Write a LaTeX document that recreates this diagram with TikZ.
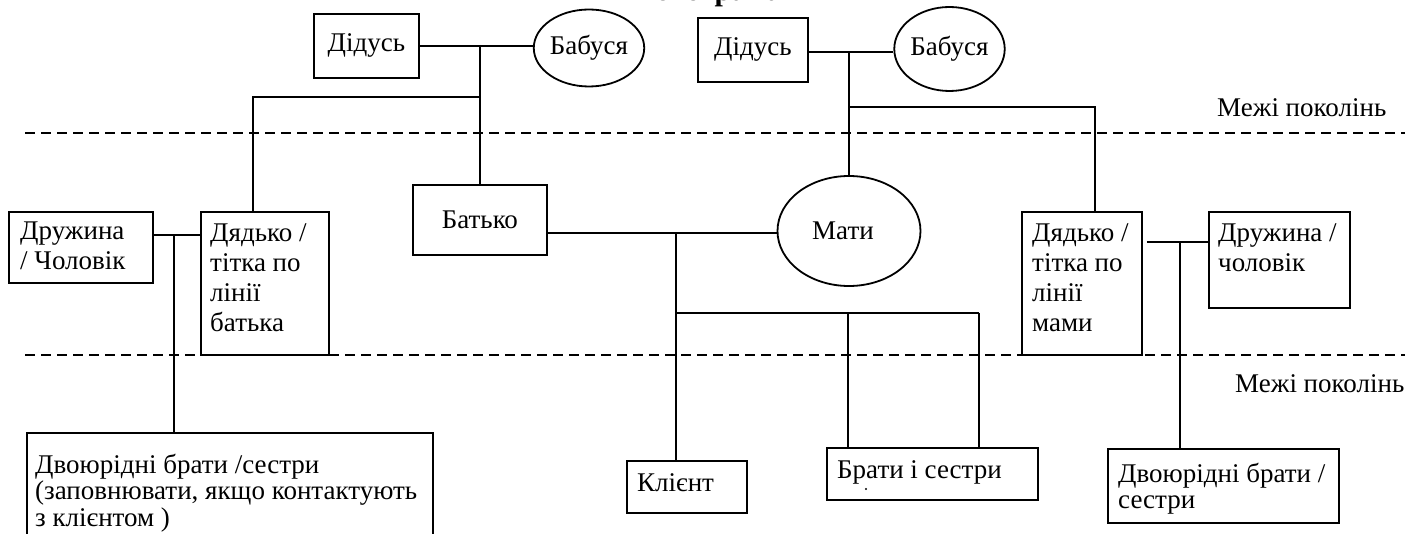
\documentclass[tikz,border=0pt]{standalone}
\usepackage{fontspec}
\setmainfont{Liberation Serif}
\usetikzlibrary{shapes.geometric,calc}
\tikzset{
  conn/.style={line width=1.8pt},
  box/.style={draw, line width=1.8pt, rectangle, inner sep=0pt, anchor=north west},
  oval/.style={draw, line width=1.8pt, ellipse, inner sep=0pt},
  txt/.style={anchor=base west, inner sep=0pt},
  tight/.style={font=\fontsize{27}{26.5}\selectfont},
  genline/.style={line width=1.6pt, dash pattern=on 10pt off 6pt},
}
\newcommand{\mlines}[1]{\begin{tabular}[t]{@{}l@{}}#1\end{tabular}}
\begin{document}
\begin{tikzpicture}[x=1pt,y=-1pt,font=\fontsize{27}{30}\selectfont]
\clip (0,0) rectangle (1411,534);
\useasboundingbox (0,0) rectangle (1411,534);

% title (cut off at the top, as in the reference)
\node[font=\bfseries\fontsize{30}{36}\selectfont, anchor=base, inner sep=0pt] (title) at (710,1) {Генограма};

% grandparents
\node[box, minimum width=105pt, minimum height=64pt] (dL) at (313,13) {};
\node[inner sep=0pt] (dLt) at (dL.center) {Дідусь};
\node[oval, minimum width=104pt, minimum height=77pt] (bL) at (589,48) {Бабуся};
\node[box, minimum width=110pt, minimum height=64pt] (dR) at (697,17) {};
\node[inner sep=0pt] (dRt) at (dR.center) {Дідусь};
\node[oval, minimum width=105pt, minimum height=84pt] (bR) at (949.5,49) {Бабуся};

% parents
\node[box, minimum width=134pt, minimum height=70pt] (father) at (412,184) {};
\node[inner sep=0pt] (fathert) at (father.center) {Батько};
\node[oval, minimum width=143pt, minimum height=110pt] (mother) at (849,231) {};
\node[inner sep=0pt] (mothert) at (843,231) {Мати};

% aunts / uncles and spouses
\node[box, minimum width=144pt, minimum height=71pt] (wifeL) at (8,211) {};
\node[txt] (wifeLt) at (20,240) {\mlines{Дружина\\/ Чоловік}};
\node[box, minimum width=128pt, minimum height=143pt] (uncleL) at (200,211) {};
\node[txt] (uncleLt) at (210,242) {\mlines{Дядько /\\тітка по\\лінії\\батька}};
\node[box, minimum width=120pt, minimum height=143pt] (uncleR) at (1021,211) {};
\node[txt] (uncleRt) at (1032,242) {\mlines{Дядько /\\тітка по\\лінії\\мами}};
\node[box, minimum width=141pt, minimum height=96pt] (wifeR) at (1208,211) {};
\node[txt] (wifeRt) at (1218,242) {\mlines{Дружина /\\чоловік}};

% children generation
\node[box, minimum width=406pt, minimum height=140pt] (cousinL) at (26,432) {};
\node[txt, tight] (cousinLt) at (35,473) {\mlines{Двоюрідні брати /сестри\\(заповнювати, якщо контактують\\з клієнтом )}};
\node[box, minimum width=120pt, minimum height=52pt] (client) at (626,460) {};
\node[txt] (clientt) at (637,491) {Клієнт};
\node[box, minimum width=211pt, minimum height=52pt] (sibs) at (826,447) {};
\node[txt] (sibst) at (837,478) {Брати і сестри};
\fill (866,489) circle (1.2pt);
\node[box, minimum width=231pt, minimum height=74pt] (cousinR) at (1107,448) {};
\node[txt, tight] (cousinRt) at (1118,482) {\mlines{Двоюрідні брати /\\сестри}};

% generation boundaries
\coordinate (g1a) at (25,133);
\coordinate (g1b) at (1405,133);
\coordinate (g2a) at (25,355);
\coordinate (g2b) at (1405,355);
\draw[genline] (g1a) -- (g1b);
\draw[genline] (g2a) -- (g2b);
\node[txt] (lim1) at (1217,117) {Межі поколінь};
\node[txt] (lim2) at (1235,392) {Межі поколінь};

% connectors, left grandparents
\coordinate (j1) at (480,45);
\coordinate (j1b) at (480,97);
\coordinate (cL) at (253,97);
\draw[conn] (dL.east) -- (bL.west |- dL.east);
\draw[conn] (j1) -- (j1 |- father.north);
\draw[conn] (j1b) -- (cL) -- (cL |- uncleL.north);

% connectors, right grandparents
\coordinate (j2) at (849,52);
\coordinate (j2b) at (849,107);
\coordinate (cR) at (1095,107);
\draw[conn] (j2 -| dR.east) -- (j2 -| bR.west);
\draw[conn] (j2) -- (mother.north);
\draw[conn] (j2b) -- (cR) -- (cR |- uncleR.north);

% couples and their children
\coordinate (m1) at (174,235);
\draw[conn] (m1 -| wifeL.east) -- (m1 -| uncleL.west);
\draw[conn] (m1) -- (m1 |- cousinL.north);

\coordinate (m2) at (1180,242);
\draw[conn] ($(m2 -| uncleR.east)+(4,0)$) -- (m2 -| wifeR.west);
\draw[conn] (m2) -- (m2 |- cousinR.north);

\coordinate (m3) at (676,233);
\draw[conn] (m3 -| father.east) -- (m3 -| mother.west);
\draw[conn] (m3) -- (m3 |- client.north);

\coordinate (s0) at (676,313);
\coordinate (s1) at (848,313);
\coordinate (s2) at (979,313);
\draw[conn] (s0) -- (s2);
\draw[conn] (s1) -- (s1 |- sibs.north);
\draw[conn] (s2) -- (s2 |- sibs.north);
\end{tikzpicture}
\end{document}
